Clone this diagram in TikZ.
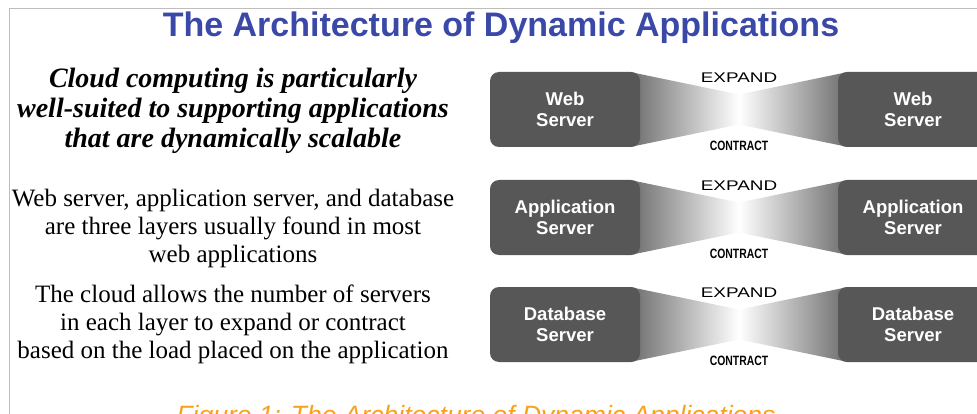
\documentclass[tikz,border=0pt]{standalone}
\usepackage{fontspec}
\setmainfont{Liberation Serif}
\setsansfont{Liberation Sans}
\usetikzlibrary{calc}

\definecolor{titleblue}{HTML}{3A48A8}
\definecolor{boxgray}{HTML}{575757}
\definecolor{funnelgray}{HTML}{6C6C6C}
\definecolor{captionorange}{HTML}{F7A21B}
\definecolor{framegray}{HTML}{BDBDBD}

\begin{document}
\begin{tikzpicture}[x=1pt, y=-1pt,
	server/.style={fill=boxgray, rounded corners=9pt, minimum width=150pt, minimum height=75pt,
		text=white, align=center, font=\sffamily\bfseries\fontsize{18.5}{21}\selectfont},
	expandlabel/.style={inner sep=0pt, font=\sffamily\fontsize{14}{14}\selectfont},
	contractlabel/.style={inner sep=0pt, font=\sffamily\bfseries\fontsize{13.5}{14}\selectfont},
	lead/.style={align=center, inner sep=0pt, font=\bfseries\itshape\fontsize{28}{30}\selectfont},
	body/.style={align=center, inner sep=0pt, font=\fontsize{25}{28}\selectfont}]
	\useasboundingbox (0,0) rectangle (977,414);
	\clip (0,0) rectangle (977,414);

	\draw[framegray, line width=1pt] (9,430) -- (9,9) -- (990,9);

	\node[text=titleblue, font=\sffamily\bfseries\fontsize{34}{36}\selectfont] (Title) at (501,28) {The Architecture of Dynamic Applications};

	\node[lead] (Lead) at (233,111) {Cloud computing is particularly\\well-suited to supporting applications\\that are dynamically scalable};
	\node[body] (Layers) at (233,228) {Web server, application server, and database\\are three layers usually found in most\\web applications};
	\node[body] (Scale) at (233,324) {The cloud allows the number of servers\\in each layer to expand or contract\\based on the load placed on the application};

	% funnel centres
	\coordinate (WebM) at (739,109.5);
	\coordinate (AppM) at (739,217.5);
	\coordinate (DbM) at (739,324.5);

	% funnels, drawn under the boxes
	\foreach \row in {Web,App,Db} {
		\shade[left color=funnelgray, right color=white]
			($(\row M)+(-109,-37.5)$) -- ($(\row M)+(0,-15)$) -- ($(\row M)+(0,15)$) -- ($(\row M)+(-109,37.5)$) -- cycle;
		\shade[left color=white, right color=funnelgray]
			($(\row M)+(0,-15)$) -- ($(\row M)+(109,-37.5)$) -- ($(\row M)+(109,37.5)$) -- ($(\row M)+(0,15)$) -- cycle;
	}

	\node[server] (WebL) at (565,109.5) {Web\\Server};
	\node[server] (WebR) at (913,109.5) {Web\\Server};
	\node[server] (AppL) at (565,217.5) {Application\\Server};
	\node[server] (AppR) at (913,217.5) {Application\\Server};
	\node[server] (DbL) at (565,324.5) {Database\\Server};
	\node[server] (DbR) at (913,324.5) {Database\\Server};

	\node[expandlabel] (WebE) at ($(WebM)+(0,-32)$) {\scalebox{1.35}[1]{EXPAND}};
	\node[contractlabel] (WebC) at ($(WebM)+(0,36)$) {\scalebox{0.77}[1]{CONTRACT}};
	\node[expandlabel] (AppE) at ($(AppM)+(0,-32)$) {\scalebox{1.35}[1]{EXPAND}};
	\node[contractlabel] (AppC) at ($(AppM)+(0,36)$) {\scalebox{0.77}[1]{CONTRACT}};
	\node[expandlabel] (DbE) at ($(DbM)+(0,-32)$) {\scalebox{1.35}[1]{EXPAND}};
	\node[contractlabel] (DbC) at ($(DbM)+(0,36)$) {\scalebox{0.77}[1]{CONTRACT}};

	\node[anchor=base, text=captionorange, font=\sffamily\itshape\fontsize{26.5}{28}\selectfont] (Caption) at (476,424) {Figure 1: The Architecture of Dynamic Applications};
\end{tikzpicture}
\end{document}
